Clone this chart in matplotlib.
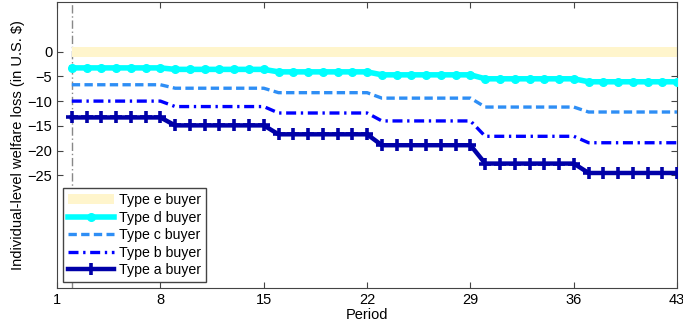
import numpy as np
import matplotlib
matplotlib.use("Agg")
import matplotlib.pyplot as plt

plt.rcParams['font.family'] = ['Liberation Sans', 'DejaVu Sans']

periods = np.arange(2, 44)
block_len = 7

# welfare loss per 7-period block (periods 2-8, 9-15, ..., 37-43)
type_e = [0, 0, 0, 0, 0, 0]
type_d = [-3.3, -3.6, -4.1, -4.7, -5.5, -6.1]
type_c = [-6.7, -7.4, -8.3, -9.4, -11.2, -12.2]
type_b = [-10.0, -11.1, -12.4, -14.0, -17.1, -18.4]
type_a = [-13.3, -14.9, -16.7, -18.9, -22.6, -24.5]

xticks = [1, 8, 15, 22, 29, 36, 43]
yticks = [0, -5, -10, -15, -20, -25]


def expand(levels):
    return np.repeat(levels, block_len)


fig = plt.figure(figsize=(6.83, 3.28), dpi=100)
ax = fig.add_axes([0.0835, 0.122, 0.908, 0.872])

ax.axvline(2, color='#888888', lw=1, ls=(0, (6, 2, 1, 2)), zorder=1)

ax.plot(periods, expand(type_e), color='#FFF5CC', lw=7.2,
        solid_capstyle='butt', label='Type e buyer', zorder=2)
ax.plot(periods, expand(type_d), color='#00FFFF', lw=4, marker='o', ms=5.5,
        label='Type d buyer', zorder=3)
ax.plot(periods, expand(type_c), color='#2E8EF5', lw=2.4, ls=(0, (2.5, 1.3)),
        label='Type c buyer', zorder=3)
ax.plot(periods, expand(type_b), color='#0000FF', lw=2.4,
        ls=(0, (3, 1.4, 0.7, 1.4)), label='Type b buyer', zorder=3)
ax.plot(periods, expand(type_a), color='#0000A8', lw=3.2, marker='+', ms=8,
        mew=2.6, label='Type a buyer', zorder=4)

ax.set_xlim(1, 43)
ax.set_ylim(-47.7, 10)
ax.set_xticks(xticks)
ax.set_yticks(yticks)
ax.tick_params(direction='in', top=True, right=True, labelsize=10.5,
               length=4, color='#444444')
for s in ax.spines.values():
    s.set_color('#444444')

ax.set_xlabel('Period', fontsize=10.5, labelpad=1)
ax.set_ylabel('Individual-level welfare loss (in U.S. $)', fontsize=10.5,
              labelpad=2)

leg = ax.legend(loc='lower left', bbox_to_anchor=(0.01, 0.02),
                borderaxespad=0, fancybox=False, edgecolor='#444444',
                fontsize=10.2, handlelength=3.2, labelspacing=0.25,
                borderpad=0.35, handletextpad=0.4, framealpha=1)
leg.get_frame().set_linewidth(1)

fig.savefig('out.png', dpi=100)
